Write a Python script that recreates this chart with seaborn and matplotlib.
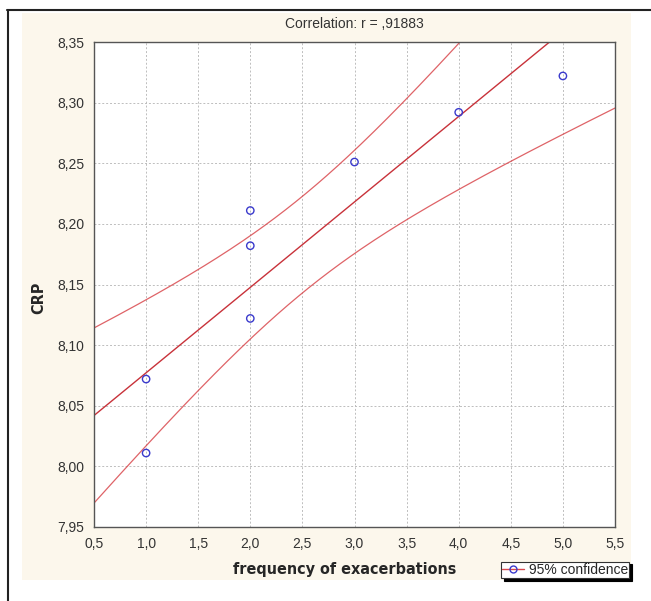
import numpy as np
import pandas as pd
import matplotlib
matplotlib.use("Agg")
import matplotlib.pyplot as plt
import seaborn as sns
from matplotlib.lines import Line2D
from matplotlib.patches import Rectangle
from matplotlib.ticker import FuncFormatter, MultipleLocator

# data
exacerbations = [1, 1, 2, 2, 2, 3, 4, 5]
crp = [8.072, 8.011, 8.211, 8.182, 8.122, 8.251, 8.292, 8.322]
title = "Correlation: r = ,91883"
T_975_DF6 = 2.4469  # t quantile, 95% two-sided, n-2 = 6 df

df = pd.DataFrame({"x": exacerbations, "y": crp})

# least squares line and 95% confidence band for the mean
x = df["x"].to_numpy(float)
y = df["y"].to_numpy(float)
n = len(x)
slope, intercept = np.polyfit(x, y, 1)
resid = y - (intercept + slope * x)
s = np.sqrt((resid ** 2).sum() / (n - 2))
sxx = ((x - x.mean()) ** 2).sum()
xs = np.linspace(0.5, 5.5, 200)
fit = intercept + slope * xs
half = T_975_DF6 * s * np.sqrt(1 / n + (xs - x.mean()) ** 2 / sxx)
lines = pd.DataFrame({"x": xs, "fit": fit, "lo": fit - half, "hi": fit + half})

sns.set_style("white")
plt.rcParams["font.family"] = ["Liberation Sans", "DejaVu Sans"]

fig = plt.figure(figsize=(6.51, 6.01), dpi=100)
fig.patch.set_facecolor("white")

# cream panel and frame lines like the exported graph
fig.patches.append(Rectangle((22 / 651, 1 - 580 / 601), 609 / 651, 567 / 601,
                             transform=fig.transFigure, facecolor="#fcf7ec",
                             edgecolor="none", zorder=-10))
fig.lines.append(Line2D([7 / 651, 1], [1 - 10 / 601, 1 - 10 / 601],
                        transform=fig.transFigure, color="#222222", lw=1.5))
fig.lines.append(Line2D([8 / 651, 8 / 651], [0, 1 - 10 / 601],
                        transform=fig.transFigure, color="#222222", lw=1.5))

ax = fig.add_axes([94 / 651, 1 - 527 / 601, 521 / 651, 485 / 601])
ax.set_facecolor("white")

red = "#d9484d"
sns.lineplot(data=lines, x="x", y="hi", color=red, lw=0.9, alpha=0.85, ax=ax)
sns.lineplot(data=lines, x="x", y="lo", color=red, lw=0.9, alpha=0.85, ax=ax)
sns.lineplot(data=lines, x="x", y="fit", color="#c8323a", lw=1.0, ax=ax)
sns.scatterplot(data=df, x="x", y="y", marker="o", s=28, facecolor="none",
                edgecolor="#3a3acc", linewidth=1.0, zorder=5, ax=ax)

ax.set_xlim(0.5, 5.5)
ax.set_ylim(7.95, 8.35)
ax.xaxis.set_major_locator(MultipleLocator(0.5))
ax.yaxis.set_major_locator(MultipleLocator(0.05))
ax.xaxis.set_major_formatter(FuncFormatter(lambda v, p: f"{v:.1f}".replace(".", ",")))
ax.yaxis.set_major_formatter(FuncFormatter(lambda v, p: f"{v:.2f}".replace(".", ",")))
ax.grid(True, color="#bdbdbd", ls=(0, (2, 2)), lw=0.7)
for sp in ax.spines.values():
    sp.set_color("#555555")
    sp.set_linewidth(1.0)
ax.tick_params(axis="both", direction="out", length=3, width=0.8, color="#555555",
               labelsize=10, labelcolor="#333333", pad=4)

label_font = {"family": ["DejaVu Sans"], "stretch": "condensed",
              "weight": "bold", "size": 11.5}
ax.set_xlabel("frequency of exacerbations", fontdict=label_font)
ax.set_ylabel("CRP", fontdict=label_font)
ax.xaxis.set_label_coords(0.482, -0.072)
ax.yaxis.set_label_coords(-0.092, 0.472)
fig.text(0.5 * (94 + 615) / 651, 1 - 24 / 601, title, ha="center", va="center",
         fontsize=10, color="#333333")

handle = Line2D([], [], color=red, lw=1, marker="o", mfc="none", mec="#3a3acc",
                markersize=5)
leg = fig.legend([handle], ["95% confidence"], loc="center",
                 bbox_to_anchor=(565 / 651, 1 - 570 / 601), fontsize=10,
                 frameon=True, fancybox=False, framealpha=1, edgecolor="#333333",
                 borderpad=0.1, handlelength=1.6, handletextpad=0.3,
                 borderaxespad=0, shadow={"color": "black", "alpha": 1})
leg.get_frame().set_linewidth(0.8)

fig.savefig("out.png", dpi=100)
